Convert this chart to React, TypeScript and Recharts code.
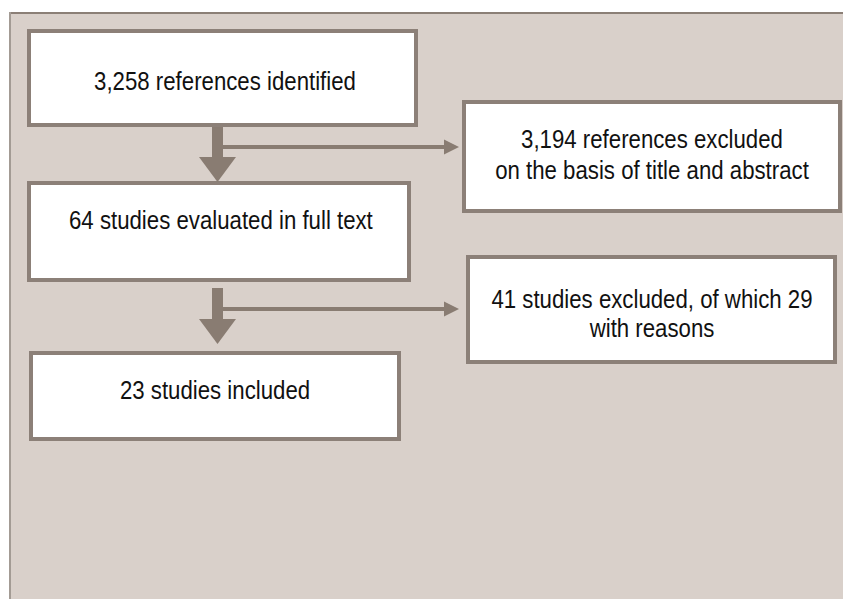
import { ComposedChart, XAxis, YAxis, ReferenceArea, Scatter } from "recharts";

// flow stages (left column) and exclusions (right column)
const stageLabels = [
  ["3,258 references identified"],
  ["64 studies evaluated in full text"],
  ["23 studies included"],
];
const excludedLabels = [
  ["3,194 references excluded", "on the basis of title and abstract"],
  ["41 studies excluded, of which 29", "with reasons"],
];

const W = 843;
const H = 599;
const BORDER = "#8c8078";
const ARROW = "#897c72";
const PANEL = "#d9d0ca";
const FONT = "'Liberation Sans', Arial, sans-serif";
const NARROW = 0.855; // original uses a condensed face

interface BoxLayout {
  x1: number;
  x2: number;
  y1: number;
  y2: number;
  textX: number;
  anchor: "start" | "middle";
  baselines: number[];
}

const stageBoxes: BoxLayout[] = [
  { x1: 27, x2: 418, y1: 29, y2: 127, textX: 225, anchor: "middle", baselines: [90] },
  { x1: 27, x2: 411, y1: 181, y2: 282, textX: 69, anchor: "start", baselines: [229] },
  { x1: 29, x2: 401, y1: 351, y2: 441, textX: 215, anchor: "middle", baselines: [399] },
];
const excludedBoxes: BoxLayout[] = [
  { x1: 462, x2: 842, y1: 100, y2: 213, textX: 652, anchor: "middle", baselines: [148, 179] },
  { x1: 466, x2: 837, y1: 255, y2: 364, textX: 652, anchor: "middle", baselines: [308, 337] },
];

// arrows: vertical shaft + down head, horizontal line + right head
const downArrows = [
  { x: 217.5, top: 127, headTop: 157, tip: 182 },
  { x: 217.5, top: 288, headTop: 319, tip: 344 },
];
const sideArrows = [
  { y: 147, from: 223, headStart: 444, tip: 459 },
  { y: 309, from: 223, headStart: 444, tip: 459 },
];

function boxShape(layout: BoxLayout, lines: string[]) {
  return (p: any) => {
    const sx = p.width / (layout.x2 - layout.x1);
    const tx = p.x + (layout.textX - layout.x1) * sx;
    return (
      <g>
        <rect
          x={p.x + 2}
          y={p.y + 2}
          width={p.width - 4}
          height={p.height - 4}
          fill="#ffffff"
          stroke={BORDER}
          strokeWidth={4}
        />
        {lines.map((line, i) => (
          <text
            key={i}
            x={0}
            y={0}
            transform={`translate(${tx},${p.y + (layout.baselines[i] - layout.y1) * sx}) scale(${NARROW},1)`}
            textAnchor={layout.anchor}
            fontFamily={FONT}
            fontSize={26}
            fill="#111111"
          >
            {line}
          </text>
        ))}
      </g>
    );
  };
}

const downHeads = downArrows.map((a) => ({ x: a.x, y: a.tip, len: a.tip - a.headTop }));
const sideHeads = sideArrows.map((a) => ({ x: a.tip, y: a.y, len: a.tip - a.headStart }));

const DownHead = (p: any) => {
  const { cx, cy, payload } = p;
  return (
    <polygon
      points={`${cx - 18.5},${cy - payload.len} ${cx + 18.5},${cy - payload.len} ${cx},${cy}`}
      fill={ARROW}
    />
  );
};

const SideHead = (p: any) => {
  const { cx, cy, payload } = p;
  return (
    <polygon
      points={`${cx - payload.len},${cy - 7.5} ${cx - payload.len},${cy + 7.5} ${cx},${cy}`}
      fill={ARROW}
    />
  );
};

export default function App() {
  return (
    <div style={{ position: "absolute", left: 0, top: 0, width: W, height: H }}>
      <ComposedChart width={W} height={H} margin={{ top: 0, right: 0, bottom: 0, left: 0 }}>
        <XAxis type="number" dataKey="x" domain={[0, W]} hide allowDataOverflow />
        <YAxis type="number" dataKey="y" domain={[0, H]} reversed hide allowDataOverflow />

        {/* panel */}
        <ReferenceArea x1={10} x2={W} y1={12} y2={H} fill={PANEL} fillOpacity={1} stroke="none" />
        <ReferenceArea x1={10} x2={W} y1={12} y2={14} fill="#8b7f76" fillOpacity={1} stroke="none" />
        <ReferenceArea x1={9} x2={11} y1={12} y2={H} fill="#a39b94" fillOpacity={1} stroke="none" />

        {stageBoxes.map((b, i) => (
          <ReferenceArea
            key={`stage-${i}`}
            x1={b.x1}
            x2={b.x2}
            y1={b.y1}
            y2={b.y2}
            shape={boxShape(b, stageLabels[i])}
          />
        ))}
        {excludedBoxes.map((b, i) => (
          <ReferenceArea
            key={`excl-${i}`}
            x1={b.x1}
            x2={b.x2}
            y1={b.y1}
            y2={b.y2}
            shape={boxShape(b, excludedLabels[i])}
          />
        ))}

        {downArrows.map((a, i) => (
          <ReferenceArea
            key={`shaft-${i}`}
            x1={a.x - 5.5}
            x2={a.x + 5.5}
            y1={a.top}
            y2={a.headTop}
            fill={ARROW}
            fillOpacity={1}
            stroke="none"
          />
        ))}
        {sideArrows.map((a, i) => (
          <ReferenceArea
            key={`line-${i}`}
            x1={a.from}
            x2={a.headStart}
            y1={a.y - 2}
            y2={a.y + 2}
            fill={ARROW}
            fillOpacity={1}
            stroke="none"
          />
        ))}

        <Scatter data={downHeads} shape={DownHead} isAnimationActive={false} />
        <Scatter data={sideHeads} shape={SideHead} isAnimationActive={false} />
      </ComposedChart>
    </div>
  );
}
